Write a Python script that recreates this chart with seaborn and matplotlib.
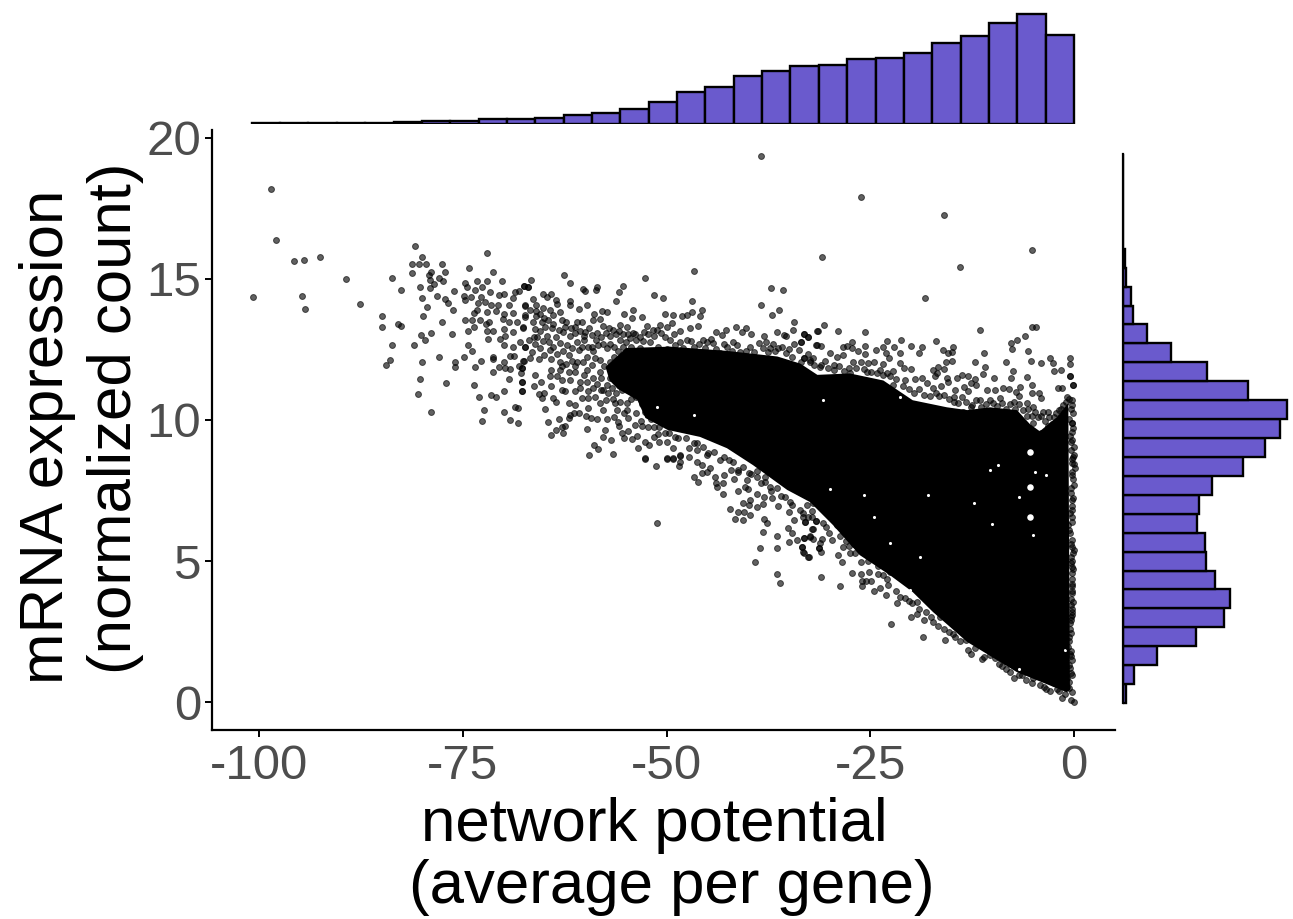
import numpy as np
import matplotlib
matplotlib.use("Agg")
import matplotlib.pyplot as plt
import seaborn as sns

# points, by region
far_left = [(-98.6,18.18),(-98.0,16.38),(-95.7,15.64),(-94.5,15.67),(-92.6,15.77),(-89.4,15.0),(-100.8,14.36),(-94.8,14.41),(-94.4,13.92),(-87.6,14.1),
    (-84.9,13.69),(-84.9,13.31),(-83.0,13.41),(-82.6,13.34),(-83.7,15.05),(-82.6,14.6),(-80.9,16.18),(-80.0,15.77),(-81.2,15.53),(-80.4,15.54),
    (-79.5,15.53),(-77.6,15.52),(-81.2,15.2),(-78.9,15.25),(-77.2,15.26),(-79.2,15.14),(-79.1,14.97),(-77.9,15.04),(-77.4,14.94),(-78.5,14.82),
    (-79.1,14.67),(-80.3,14.72),(-80.0,14.33),(-78.2,14.41),(-77.2,14.29),(-76.8,14.16),(-79.4,14.0),(-76.2,13.9),(-79.9,13.69),(-77.6,13.49),
    (-78.9,13.1),(-80.1,13.0),(-79.7,12.85),(-81.0,12.67),(-83.7,12.67),(-84.0,12.13),(-84.5,11.95),(-80.0,12.07),(-78.0,12.24),(-76.4,13.05),
    (-76.0,12.06),(-76.0,11.88),(-80.3,11.45),(-80.5,10.92),(-77.1,11.31),(-78.9,10.3)]
left_cloud = [(-73.7,11.23),(-73.5,11.89),(-74.9,12.23),(-72.8,12.1),(-73.9,12.44),(-74.4,12.66),(-74.4,13.17),(-74.7,13.55),(-73.9,13.55),(-73.7,13.31),
    (-72.1,15.91),(-74.2,15.38),(-71.3,15.24),(-72.1,14.93),(-73.3,14.93),(-70.2,14.92),(-74.8,14.87),(-74.5,14.73),(-73.5,14.61),(-72.7,14.72),
    (-76.1,14.59),(-74.9,14.41),(-74.8,14.26),(-74.0,14.35),(-72.8,14.37),(-71.7,14.55),(-70.6,14.42),(-70.0,14.45),(-73.1,14.14),(-72.3,14.2),
    (-71.5,14.06),(-70.7,14.06),(-73.3,13.9),(-72.1,13.84),(-71.0,13.88),(-70.0,13.76),(-73.6,13.81),(-72.9,13.55),(-71.8,13.49),(-72.2,13.4),
    (-70.1,13.57),(-69.4,13.46),(-68.9,13.81),(-69.9,13.23),(-71.3,13.17),(-72.0,13.17),(-71.9,12.87),(-70.5,12.87),(-69.8,12.96),(-68.8,13.11),
    (-68.4,13.49),(-67.6,13.25),(-69.9,12.66),(-68.9,12.59),(-68.0,12.77),(-67.4,12.57),(-71.3,12.25),(-71.3,12.16),(-69.2,12.26),(-68.7,12.26),
    (-69.9,12.05),(-70.6,11.87),(-69.8,11.86),(-69.2,11.82),(-71.3,11.7),(-68.1,11.92),(-67.8,11.86),(-67.9,11.66),(-67.5,12.1),(-69.3,11.44),
    (-67.8,11.36),(-67.8,11.01),(-69.9,11.01),(-71.5,10.89),(-71.0,10.83),(-73.0,10.83),(-72.4,10.36),(-72.7,9.98),(-69.9,10.3),(-68.6,10.46),
    (-68.2,10.41),(-69.2,10.01),(-68.3,9.88),(-68.6,14.55),(-68.1,14.59),(-67.5,14.76),(-67.0,14.72),(-68.8,14.32),(-69.3,14.08),(-67.4,14.04),(-67.4,13.66)]
middle_cloud = [(-38.4,19.35),(-46.6,15.28),(-52.7,15.02),(-62.6,15.13),(-61.8,14.85),(-66.6,14.97),(-67.5,14.76),(-67.0,14.73),(-60.3,14.65),(-60.0,14.59),
    (-58.5,14.71),(-58.7,14.61),(-55.4,14.74),(-55.8,14.54),(-56.2,14.21),(-51.5,14.43),(-50.5,14.34),(-46.9,14.23),(-37.2,14.69),(-35.7,14.62),
    (-38.4,14.08),(-36.2,13.9),(-37.1,13.72),(-34.4,13.46),(-34.5,13.19),(-36.4,13.13),(-35.6,13.02),(-35.3,12.98),(-33.2,13.05),(-32.7,12.93),
    (-31.5,13.16),(-33.5,12.78),(-41.5,13.29),(-40.8,13.13),(-40.2,13.26),(-39.6,13.06),(-38.0,12.96),(-44.0,13.13),(-42.7,13.18),(-45.5,12.84),
    (-44.6,12.88),(-43.2,13.02),(-45.6,13.89),(-46.9,13.82),(-45.9,13.67),(-46.1,13.33),(-47.5,13.72),(-48.1,13.69),(-49.2,13.72),(-50.2,13.74),
    (-49.4,13.43),(-50.8,13.36),(-52.4,13.33),(-53.0,13.66),(-54.1,13.9),(-55.2,13.76),(-54.3,13.61),(-57.3,13.84),(-57.9,13.88),(-58.9,13.77),
    (-58.2,13.58),(-59.0,13.55),(-59.8,14.06),(-60.7,13.94),(-61.8,14.22),(-61.9,14.08),(-63.1,13.82),(-63.4,14.1),(-64.2,14.46),(-65.2,14.48),
    (-63.6,14.26),(-66.4,14.28),(-64.7,14.37),(-66.0,14.08),(-67.4,14.06),(-65.2,13.98),(-64.3,13.9),(-63.9,13.72),(-66.0,13.69),(-67.4,13.72),
    (-66.4,13.49),(-65.3,13.49),(-62.9,13.55),(-62.3,13.46),(-61.0,13.49),(-60.4,13.49),(-64.0,13.42),(-64.1,13.25),(-67.6,13.28),(-66.1,13.23),
    (-62.7,13.13),(-61.2,13.07),(-60.0,13.13),(-57.8,13.33),(-57.1,13.27),(-55.7,13.35),(-54.9,13.29),(-54.1,13.1),(-52.8,13.11),(-51.2,13.19),
    (-50.0,13.31),(-48.3,13.17),(-47.1,13.25),(-66.3,12.95),(-64.7,12.96),(-63.1,12.72),(-61.8,12.96),(-60.2,12.84),(-58.6,13.07),(-56.9,12.96),
    (-55.7,12.84),(-53.7,12.84),(-51.6,12.96),(-49.6,12.84),(-47.5,12.84),(-67.4,12.6),(-66.5,12.42),(-65.5,12.54),(-64.3,12.48),(-62.7,12.45),
    (-60.8,12.48),(-59.2,12.6),(-57.3,12.54),(-55.3,12.6),(-53.3,12.54),(-50.0,12.51),(-67.6,12.09),(-66.8,12.19),(-65.7,12.16),(-64.2,12.16),
    (-63.1,12.07),(-62.0,12.31),(-61.0,12.07),(-59.8,12.25),(-58.2,12.13),(-56.5,12.25),(-54.9,12.25),(-52.8,12.25),(-67.8,11.83),(-64.2,11.77),
    (-63.1,11.77),(-62.0,11.71),(-61.2,11.71),(-59.8,11.77),(-58.2,11.71),(-56.5,11.77),(-54.9,11.77),(-66.1,11.6),(-64.3,11.57),(-63.4,11.57),
    (-62.9,11.42),(-61.8,11.42),(-60.6,11.36),(-59.8,11.36),(-58.6,11.27),(-57.3,11.24),(-55.7,11.42),(-54.1,11.36),(-67.8,11.36),(-65.4,11.36),
    (-66.3,11.22),(-64.2,11.22),(-67.8,11.01),(-62.9,11.06),(-62.5,11.03),(-61.2,11.01),(-60.6,11.12),(-59.6,11.01),(-57.8,11.06),(-56.7,11.12),
    (-65.7,10.92),(-65.1,10.95),(-65.3,10.77),(-63.9,10.77),(-63.6,10.63),(-60.4,10.77),(-59.6,10.77),(-58.8,10.83),(-58.2,10.59),(-56.3,10.59),
    (-54.9,10.59),(-53.7,10.83),(-62.0,10.59),(-61.2,10.53),(-59.6,10.41),(-57.8,10.36),(-64.9,10.40),(-54.9,10.36),(-53.7,10.24),(-61.9,10.18),
    (-61.4,10.24),(-60.7,10.24),(-59.9,10.14),(-59.3,10.06),(-58.5,10.04),(-57.3,10.02),(-56.4,10.12),(-56.0,9.94),(-54.7,10.06),(-63.2,10.02),
    (-64.5,9.93),(-62.0,10.06),(-62.5,9.8),(-62.9,9.74),(-63.6,9.65),(-62.7,9.54),(-64.2,9.48),(-59.8,9.68),(-57.6,9.65),(-55.8,9.79),
    (-53.9,9.82),(-53.0,9.79),(-51.6,9.74),(-55.5,9.53),(-54.7,9.61),(-57.8,9.41),(-56.8,9.29),(-55.2,9.35),(-54.3,9.33),(-53.6,9.45),
    (-51.5,9.39),(-50.2,9.53),(-49.0,9.39),(-58.9,9.13),(-58.4,8.98),(-59.5,8.77),(-56.6,8.8),(-53.5,9.01),(-52.6,9.22),(-52.2,9.11),
    (-50.9,9.23),(-49.2,9.0),(-47.3,9.0),(-52.6,8.64),(-49.9,8.64),(-49.2,8.64),(-48.3,8.76),(-46.3,9.17),(-45.0,8.76),
    (-41.4,12.66),(-39.8,12.6),(-38.7,12.72),(-37.8,12.75),(-36.9,12.7),(-36.3,12.54),(-35.3,12.36),(-34.4,12.7),(-33.8,12.48),(-32.4,12.13),
    (-31.6,12.66),(-33.2,12.19),(-37.3,12.54),(-41.0,12.42),(-42.6,12.6),(-44.3,12.72),(-43.4,12.36),(-45.3,12.54),(-46.7,12.6),(-48.3,12.78)]
lower_edge = [(-51.3,8.37),(-49.9,8.62),(-49.2,8.62),(-48.5,8.38),(-48.4,8.52),(-52.6,8.62),(-46.3,8.52),(-45.7,8.4),(-45.6,8.13),(-46.6,7.98),
    (-46.1,7.8),(-44.7,8.29),(-45.0,8.16),(-44.1,7.99),(-44.0,7.78),(-43.8,7.64),(-43.1,7.78),(-42.9,8.05),(-43.1,7.38),(-42.1,8.23),
    (-41.7,7.91),(-41.3,8.23),(-41.2,8.14),(-41.3,7.49),(-40.4,7.64),(-40.0,7.55),(-40.1,7.87),(-39.9,8.11),(-42.2,6.84),(-40.6,7.04),
    (-39.8,7.16),(-39.9,6.99),(-41.2,6.73),(-40.5,6.73),(-39.8,6.63),(-41.6,6.49),(-40.6,6.47),(-38.9,7.38),(-38.0,7.26),(-38.9,6.93),
    (-38.2,7.01),(-37.1,7.25),(-36.3,6.95),(-38.1,6.49),(-37.7,6.34),(-38.2,6.04),(-51.2,6.34),(-36.4,5.9),(-38.5,5.45),(-36.5,5.45),
    (-39.1,4.98),(-36.4,4.55),(-36.1,4.23),(-35.1,6.16),(-34.6,6.0),(-35.0,5.67),(-34.0,5.74),(-33.2,5.82),(-32.4,5.86),(-32.0,5.78),
    (-32.0,6.12),(-33.4,5.48),(-33.2,5.3),(-32.5,5.14),(-31.3,5.45),(-35.0,6.75),(-34.4,6.45),(-33.3,6.69),(-33.0,6.39),(-32.1,6.55),
    (-31.7,6.42),(-32.7,6.57),(-32.1,6.78),(-32.0,7.07),(-32.8,6.99),(-34.9,7.1),(-35.5,7.28),(-36.5,7.58),(-37.3,7.64),(-37.9,7.81),
    (-37.9,7.99),(-38.9,7.99),(-38.9,8.2),(-42.4,8.58),(-43.4,8.58),(-44.9,8.82),(-46.3,8.94),(-47.3,8.7),(-48.3,8.74),(-50.0,9.23),
    (-31.1,4.42),(-28.7,4.13),(-27.2,4.57),(-26.1,4.54),(-26.0,4.11),(-26.0,4.28),(-25.5,4.3),(-24.9,4.3),(-24.6,3.94),(-23.8,4.03),
    (-23.1,3.81),(-22.5,2.75),(-21.7,3.52),(-20.0,3.0),(-19.3,3.12),(-18.4,2.91),(-18.5,2.32),(-20.3,3.58),(-15.8,2.19),(-17.3,2.84),
    (-15.9,2.58),(-14.6,2.32),(-13.0,1.84),(-12.6,1.69),(-11.3,1.51),(-9.7,1.55),(-8.9,1.28),(-7.4,0.84),(-6.4,0.96),(-5.1,0.69),
    (-3.4,0.48),(-2.9,0.4),(-1.5,0.15),(-0.6,0.51),(-1.1,0.28),(-0.4,0.07),(0.0,0.0),(-0.9,0.84),(-0.4,1.04),(-0.4,1.82),
    (-0.4,1.63),(-32.6,5.15),(-33.3,5.32),(-33.4,5.51),(-31.0,5.33),(-31.3,5.45),(-31.2,5.63),(-30.9,5.78),(-30.1,6.0),(-32.1,6.12),
    (-32.4,5.9),(-33.2,5.82),(-29.0,5.2),(-28.5,4.95),(-28.3,5.51),(-27.5,5.3),(-26.9,5.27),(-27.0,5.6),(-28.7,5.9),(-26.1,4.98),
    (-24.0,4.82),(-25.2,4.62),(-23.4,4.5),(-22.6,4.62),(-33.0,6.39),(-31.7,6.42),(-30.8,6.34),(-29.1,6.28),(-26.9,5.8),(-22.8,4.15),
    (-21.4,3.74),(-19.3,3.56),(-18.2,3.2),(-16.4,3.03),(-14.8,2.43),(-13.2,2.2),(-10.3,1.67),(-8.3,1.19),(-5.0,0.84),(-2.5,0.66)]
right_edge = [(-0.3,9.88),(0.0,8.76),(0.1,8.29),(-0.3,8.05),(0.0,7.7),(-0.3,7.16),(-0.3,6.81),(-0.7,6.28),(-0.3,5.51),(-0.1,5.3),
    (-0.4,4.94),(-0.3,4.56),(-0.2,4.11),(-0.4,3.44),(-0.4,3.03),(-0.5,2.79),(-0.6,2.32),(-0.2,9.29),(-0.3,8.46),(-0.4,7.4),
    (-0.2,6.57),(-0.5,5.98),(-0.2,4.8),(-0.3,3.85),(-0.3,3.2),(-0.7,1.96),(-0.6,1.31),
    (-0.1,9.7),(-0.5,9.45),(0.0,9.05),(-0.4,8.95),(-0.2,8.6),(0.0,8.45),(-0.2,8.15),(-0.1,7.9),(-0.4,7.6),(-0.1,7.25),
    (-0.2,6.95),(-0.5,6.7),(-0.3,6.4),(-0.6,6.1),(-0.2,5.75),(-0.4,5.6),(0.0,5.4),(-0.4,5.15),(-0.2,5.0),(-0.1,4.7),
    (-0.3,4.35),(-0.2,4.2),(-0.3,3.95),(-0.4,3.65),(-0.1,3.55),(-0.3,3.3),(-0.2,3.1),(-0.4,2.9),(-0.5,2.6),(-0.4,2.45),
    (-0.6,2.15),(-0.5,1.7),(-0.3,1.5),(-0.5,1.2),(-0.2,0.95),(-0.6,0.7),(-0.3,0.35),(-0.9,0.55),(-1.9,0.4)]
upper_right = [(-26.1,17.92),(-15.9,17.26),(-5.1,16.01),(-30.9,15.77),(-14.0,15.43),(-18.3,14.32),(-30.7,13.36),(-31.4,13.16),(-29.0,13.16),(-25.6,13.13),
    (-33.2,13.06),(-32.7,12.93),(-33.5,12.78),(-11.6,13.18),(-5.1,13.28),(-4.7,13.31),(-6.0,12.98),(-7.0,12.84),(-7.7,12.72),(-7.6,12.52),
    (-23.0,12.79),(-21.2,12.84),(-16.9,12.8),(-20.0,12.62),(-22.1,12.59),(-23.5,12.57),(-24.3,12.48),(-18.7,12.57),(-14.8,12.59),(-16.1,12.48),
    (-19.0,12.39),(-21.3,12.37),(-23.1,12.37),(-15.5,12.37),(-15.0,12.4),(-11.0,12.39),(-5.6,12.46),(-25.6,12.62),(-25.6,12.33),(-27.2,12.77),
    (-27.9,12.64),(-28.4,12.57),(-27.3,12.54),(-26.5,12.46),(-28.3,12.31),(-31.7,12.66),(-31.0,12.63),(-22.7,12.21),(-25.3,12.03),(-24.6,12.07),
    (-23.4,11.97),(-21.3,12.02),(-20.9,11.83),(-20.0,11.82),(-15.0,12.08),(-15.7,12.05),(-16.7,11.88),(-15.9,11.82),(-17.3,11.76),(-16.8,11.68),
    (-17.1,11.56),(-22.2,11.72),(-23.0,11.68),(-12.1,12.05),(-10.9,11.87),(-11.2,11.64),(-8.3,12.06),(-7.5,11.74),(-7.7,11.49),(-5.8,11.51),
    (-9.8,11.49),(-5.3,12.08),(-4.0,12.03),(-2.9,12.2),(-2.6,12.03),(-2.4,11.72),(-1.6,11.76),(-0.5,12.19),(-0.5,11.97),(-0.5,11.56),
    (-0.5,11.56),(-0.1,11.25),(-0.1,11.25),(-2.0,11.14),(-1.5,11.14),(-0.8,10.83),(-5.2,11.23),(-5.2,10.95),(-4.3,10.95),(-4.1,10.79),
    (-18.7,11.49),(-19.5,11.45),(-20.7,11.4),(-15.6,11.49),(-14.4,11.49),(-13.8,11.6),(-13.0,11.55),(-12.1,11.47),(-12.0,11.23),(-12.7,11.3),
    (-16.3,11.21),(-13.0,11.04),(-13.5,11.18),(-14.6,11.06),(-15.5,11.36),(-10.7,11.06),(-9.7,11.06),(-8.7,11.14),(-8.0,11.09),(-6.6,11.18),
    (-7.1,11.0),(-6.8,10.85),(-11.5,10.71),(-10.3,10.71),(-9.1,10.77),(-7.4,10.65),(-5.8,10.59),(-5.0,10.47),(-3.8,10.3),(-3.2,10.3),
    (-1.9,10.36),(-1.3,10.53),(-0.3,10.53),(-0.1,10.24),(-0.3,9.88),(-0.3,9.59),(-0.4,9.23),(-0.1,8.7),(-14.7,10.63),(-12.5,10.53),
    (-13.6,10.3),(-10.1,9.94),(-11.0,9.97),(-8.7,10.18),(-5.8,10.14),(-4.4,10.12),(-5.0,9.88),(-5.4,9.59),(-4.4,9.37),(-4.1,9.55),
    (-3.2,9.77),(-2.5,10.12),(-4.6,8.76),(-17.3,11.13),(-18.1,11.3),(-22.2,11.24),(-23.8,11.77),(-25.4,11.71),(-27.1,12.07),(-29.1,12.25),
    (-29.9,12.37),(-32.0,12.19),(-31.2,11.89),(-33.2,12.19),(-27.5,11.66),(-29.5,11.77),(-32.4,12.07)]
dense_left = [(-66.8,13.9),(-66.0,13.85),(-65.5,13.75),(-65.0,13.62),(-64.6,13.55),(-64.9,13.3),(-65.6,13.15),(-65.9,12.95),(-65.2,12.8),(-64.4,12.75),
    (-63.6,12.95),(-63.2,13.2),(-62.5,13.3),(-61.7,13.25),(-61.2,13.3),(-60.6,13.15),(-60.1,12.98),(-59.5,13.25),(-59.2,13.0),(-58.7,12.85),
    (-58.0,12.95),(-57.5,13.1),(-56.6,13.2),(-56.2,13.05),(-55.9,13.15),(-55.3,13.05),(-54.8,13.05),(-54.5,12.9),(-53.9,13.05),(-53.3,12.95),
    (-52.9,12.8),(-52.3,13.05),(-51.7,13.2),(-50.7,13.1),(-50.2,12.95),(-49.1,13.05),(-66.9,12.85),(-66.2,12.7),(-65.0,12.3),(-63.9,12.6),
    (-63.4,12.35),(-62.2,12.65),(-61.6,12.55),(-61.0,12.75),(-60.4,12.6),(-59.7,12.6),(-59.0,12.45),(-58.4,12.65),(-57.8,12.7),(-57.0,12.7),
    (-56.5,12.6),(-56.0,12.45),(-55.0,12.75),(-54.4,12.6),(-53.8,12.45),(-62.8,11.9),(-62.4,12.0),(-61.6,12.1),(-61.2,11.9),(-60.3,12.05),
    (-59.2,11.95),(-58.8,12.2),(-57.7,11.9),(-57.0,12.05),(-56.0,11.95),(-55.4,12.1),(-54.4,12.0),(-53.5,11.95),(-52.5,11.85),(-60.2,11.6),
    (-59.0,11.5),(-58.0,11.5),(-57.0,11.5),(-56.0,11.55),(-55.1,11.6),(-54.4,11.55),(-53.8,11.7),(-53.2,11.45),(-59.0,11.15),(-58.1,11.05),
    (-57.2,10.95),(-56.2,10.95),(-55.5,11.05),(-54.6,11.05),(-53.4,10.95),(-57.5,10.7),(-56.6,10.75),(-55.7,10.65),(-54.4,10.75),(-53.0,10.55),
    (-56.1,10.35),(-55.2,10.25),(-52.6,10.3),(-51.9,10.05),(-53.1,9.95),(-52.3,9.75),(-50.9,9.75),(-49.7,9.55),(-51.1,9.5),(-48.6,9.35),
    (-47.6,9.35),(-46.7,9.2),(-45.5,9.05),(-44.2,8.85),(-43.0,8.7),(-41.8,8.5),(-40.6,8.35),(-39.6,8.1),(-38.4,7.75),(-37.2,7.5),
    (-36.0,7.3),(-34.6,7.0),(-33.6,6.8),(-33.3,6.55),(-30.4,6.2),(-29.7,5.75),(-28.0,5.7),(-27.6,5.55),(-26.0,5.4),(-25.3,5.0),
    (-24.0,4.55),(-23.0,4.35),(-21.9,3.95),(-20.8,3.7),(-19.9,3.5),(-19.0,3.3),(-17.6,3.0),(-16.7,2.7),(-15.4,2.5),(-14.0,2.15),
    (-12.2,1.9),(-11.0,1.6),(-9.2,1.35),(-7.9,1.05),(-6.7,0.95),(-5.9,0.78),(-4.2,0.62),(-3.7,0.55),(-2.1,0.45)]
top_arc = [(-52.0,12.75),(-51.0,12.6),(-49.0,12.65),(-48.0,12.55),(-47.0,12.8),(-46.0,12.7),(-45.0,12.75),(-44.0,12.5),(-43.0,12.7),(-42.0,12.45),
    (-41.9,12.75),(-40.3,12.45),(-39.3,12.4),(-38.2,12.55),(-37.6,12.4),(-36.7,12.45),(-35.8,12.6),(-35.0,12.5),(-34.6,12.25),(-33.5,12.05),
    (-32.7,12.35),(-31.9,11.95),(-31.1,11.95),(-30.6,12.1),(-30.2,11.85),(-29.4,11.95),(-28.8,11.9),(-28.2,11.75),(-27.6,11.85),(-26.7,11.85),
    (-26.2,12.05),(-25.8,11.8),(-24.9,11.7),(-24.2,11.65),(-23.5,11.6),(-22.6,11.55),(-21.8,11.45),(-21.0,11.2),(-20.3,11.1),(-19.7,10.95),
    (-19.0,11.1),(-18.4,10.9),(-17.7,10.85),(-17.0,10.95),(-16.6,10.85),(-15.9,10.9),(-15.3,10.75),(-14.7,10.8),(-14.2,10.6),(-13.7,10.8),
    (-13.2,10.65),(-12.7,10.45),(-12.0,10.7),(-11.4,10.45),(-10.8,10.55),(-10.0,10.6),(-9.5,10.5),(-8.9,10.6),(-8.4,10.4),(-7.9,10.55),
    (-7.2,10.4),(-6.7,10.55),(-6.3,10.35),(-5.6,10.4),(-5.2,10.15),(-4.8,10.3),(-4.0,10.15),(-3.6,9.95),(-3.1,10.1),(-2.7,9.85),
    (-2.2,10.25),(-1.6,10.4),(-1.0,10.65),(-0.6,10.75),(-0.2,10.7),(-0.4,10.4),(-0.6,10.05)]

# outline of the saturated core, where single points can no longer be told apart
core_x = [-57.5,-55.0,-49.6,-42.6,-36.4,-33.6,-31.5,-27.5,-23.4,-19.8,-15.6,-13.1,-10.3,-7.0,-5.4,-4.2,-2.1,-0.7,-0.5,-0.9,-7.0,-13.1,-17.3,-19.8,-22.6,-26.3,-29.6,-32.4,-35.2,-39.4,-42.6,-45.9,-49.9,-52.6,-53.6,-56.0,-57.0]
core_y = [11.88,12.55,12.6,12.45,12.25,12.0,11.6,11.65,11.4,10.7,10.45,10.35,10.45,10.35,9.85,9.6,10.1,10.6,0.43,0.35,1.06,2.13,3.19,3.9,4.5,5.21,6.28,7.09,7.52,8.4,9.0,9.4,9.65,10.07,10.71,11.1,11.4]

# small white gaps inside the saturated core
gaps_big = [(-5.4,8.88),(-5.4,6.57),(-5.4,7.64)]
gaps_small = [(-10.1,6.31),(-9.3,8.4),(-10.3,8.23),(-3.4,8.05),(-4.8,8.17),(-25.8,7.34),(-17.9,7.34),(-12.3,7.07),(-6.8,7.26),(-5.0,5.92),
    (-20.1,3.97),(-18.9,5.15),(-29.9,7.54),(-24.5,6.57),(-22.6,5.63),(-6.8,1.19),(-1.1,1.84),(-21.4,10.83),(-30.8,10.71),(-46.7,10.18),(-51.2,10.47)]

# histogram counts, left to right and bottom to top
top_counts = [9,9,13,17,17,27,40,44,67,67,80,121,147,201,295,429,496,643,710,777,791,871,884,951,1085,1179,1354,1474,1196]
right_counts = [21,82,262,560,778,822,708,637,631,570,585,683,924,1093,1209,1263,963,647,370,182,77,59,25,13,3,2,2,1,1]

x_ticks = [-100,-75,-50,-25,0]
y_ticks = [0,5,10,15,20]

W, H = 1293, 919
X0, X1 = -105.8, 5.03
Y0, Y1 = -0.99, 20.28
BAR = "#6A5ACD"
GREY = "#4D4D4D"

sns.set_theme(style="ticks")
plt.rcParams["font.family"] = ["Liberation Sans", "DejaVu Sans"]
plt.rcParams["axes.unicode_minus"] = False

fig = plt.figure(figsize=(W / 100, H / 100), dpi=100)
ax = fig.add_axes([212 / W, 1 - 730 / H, (1115 - 212) / W, 600 / H])
ax_top = fig.add_axes([212 / W, 1 - 124 / H, (1115 - 212) / W, 124 / H])
ax_right = fig.add_axes([1123 / W, 1 - 730 / H, 170 / W, 600 / H])

ax.fill(core_x, core_y, color="black", lw=0)
big = np.array(gaps_big)
small = np.array(gaps_small)
ax.scatter(big[:, 0], big[:, 1], s=22, color="white", linewidth=0, zorder=2)
ax.scatter(small[:, 0], small[:, 1], s=5, color="white", linewidth=0, zorder=2)
pts = np.array(far_left + left_cloud + middle_cloud + lower_edge + right_edge + upper_right + dense_left + top_arc)
sns.scatterplot(x=pts[:, 0], y=pts[:, 1], ax=ax, s=18, color="black", alpha=0.62, edgecolor="black", linewidth=0.7, zorder=3)
ax.set_xlim(X0, X1)
ax.set_ylim(Y0, Y1)
ax.set_xticks(x_ticks)
ax.set_yticks(y_ticks)
ax.tick_params(axis="both", labelsize=35.5, labelcolor=GREY, color="black", width=1.4, length=5)
ax.tick_params(axis="x", pad=5)
ax.tick_params(axis="y", pad=3)
for s in ["left", "bottom"]:
    ax.spines[s].set_linewidth(1.6)
    ax.spines[s].set_color("black")
sns.despine(ax=ax)

# top marginal
bw_x = 3.48
top_edges = -bw_x * np.arange(len(top_counts), -1, -1)
sns.histplot(x=(top_edges[:-1] + top_edges[1:]) / 2, weights=top_counts, bins=top_edges.tolist(), ax=ax_top,
             color=BAR, edgecolor="black", linewidth=1.7, alpha=1)
ax_top.set_xlim(X0, X1)
ax_top.set_ylim(0, 1662)
ax_top.axis("off")

# right marginal
bw_y = 0.671
right_edges = -0.035 + bw_y * np.arange(len(right_counts) + 1)
sns.histplot(y=(right_edges[:-1] + right_edges[1:]) / 2, weights=right_counts, bins=right_edges.tolist(), ax=ax_right,
             color=BAR, edgecolor="black", linewidth=1.7, alpha=1)
ax_right.set_ylim(Y0, Y1)
ax_right.set_xlim(0, 1309)
ax_right.set_xlabel("")
ax_right.set_ylabel("")
ax_right.set_xticks([])
ax_right.set_yticks([])
ax_right.patch.set_visible(False)
sns.despine(ax=ax_right, bottom=True)
ax_right.spines["left"].set_bounds(right_edges[0], right_edges[-1])
ax_right.spines["left"].set_linewidth(1.6)
ax_right.spines["left"].set_color("black")

# axis titles sit off-centre from each other, so each line is its own text
fig.text(654 / W, 1 - 826 / H, "network potential", fontsize=44.5, color="black", ha="center", va="center")
fig.text(672 / W, 1 - 888 / H, "(average per gene)", fontsize=44.5, color="black", ha="center", va="center")
fig.text(48 / W, 1 - 437 / H, "mRNA expression", fontsize=44.5, color="black", ha="center", va="center", rotation=90)
fig.text(115 / W, 1 - 418 / H, "(normalized count)", fontsize=44.5, color="black", ha="center", va="center", rotation=90)

fig.savefig("out.png", dpi=100)
